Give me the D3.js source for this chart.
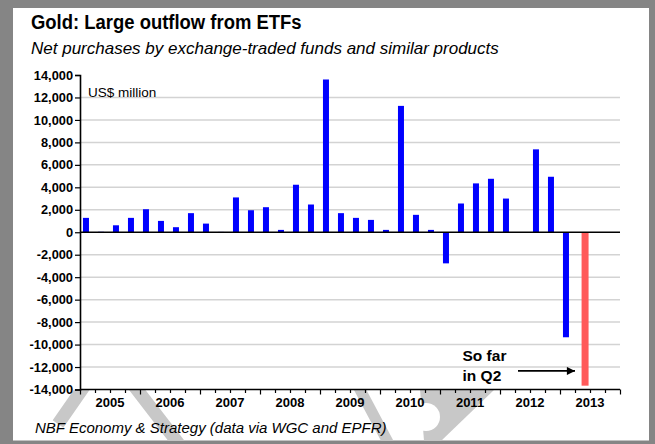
<!DOCTYPE html>
<html>
<head>
<meta charset="utf-8">
<script src="https://cdn.jsdelivr.net/npm/d3@7"></script>
<style>
  html, body { margin: 0; padding: 0; background: #fff; }
  svg { display: block; }
  text { font-family: "Liberation Sans", Arial, sans-serif; }
</style>
</head>
<body>
<svg id="chart" width="655" height="444"></svg>
<script>
// Quarterly net purchases of gold by ETFs and similar products, US$ million
const years = ["2005", "2006", "2007", "2008", "2009", "2010", "2011", "2012", "2013"];
const quarterNames = ["Q1", "Q2", "Q3", "Q4"];
const quarters = years.flatMap(y => quarterNames.map(q => y + q));
const etfFlows = [
  1280, 40, 620, 1280,
  2050, 1010, 450, 1700,
  770, 30, 3100, 1960,
  2230, 210, 4230, 2470,
  13600, 1700, 1280, 1100,
  210, 11250, 1550, 210,
  -2770, 2560, 4350, 4760,
  3000, null, 7380, 4940,
  -9350, null, null, null
];
// Quarter to date (highlighted)
const soFarQuarters = ["2013Q2"];
const soFarValues = [-13660];
const yTicks = d3.range(-14000, 14001, 2000);

const title = "Gold: Large outflow from ETFs";
const subtitle = "Net purchases by exchange-traded funds and similar products";
const unitLabel = "US$ million";
const sourceNote = "NBF Economy & Strategy (data via WGC and EPFR)";
const noteLines = ["So far", "in Q2"];

const svg = d3.select("#chart");
const W = 655, H = 444;
const plot = { left: 80, right: 620, top: 75, bottom: 389.5 };

// Frame
svg.append("rect").attr("width", W).attr("height", H).attr("fill", "#858585");
svg.append("rect").attr("x", 13).attr("y", 8).attr("width", 636).attr("height", 432.5).attr("fill", "#fff");

// Faint background emblem, visible below the plot
const defs = svg.append("defs");
defs.append("clipPath").attr("id", "below").append("rect")
  .attr("x", 13).attr("y", plot.bottom).attr("width", 636).attr("height", 440.5 - plot.bottom);
const emblem = svg.append("g").attr("clip-path", "url(#below)").attr("fill", "none").attr("stroke", "#c8c8c8");
emblem.append("path").attr("d", "M58,424 L108,352 L185,452").attr("stroke-width", 13).attr("stroke-linejoin", "round");
emblem.append("path").attr("d", "M340,352 L390,446").attr("stroke-width", 11);
emblem.append("path").attr("d", "M420,389 L495,389 L441,441 L424,441 Z").attr("fill", "#c8c8c8").attr("stroke", "none");
emblem.append("circle").attr("cx", 426).attr("cy", 417).attr("r", 14).attr("fill", "#fff").attr("stroke", "none");

// Titles
svg.append("text").attr("transform", "translate(31,29) scale(0.9,1)")
  .attr("font-size", 20.5).attr("font-weight", "bold").attr("fill", "#000").text(title);
svg.append("text").attr("x", 31).attr("y", 54).attr("font-size", 17).attr("font-style", "italic").attr("fill", "#000").text(subtitle);

// Scales
const x = d3.scaleBand().domain(quarters).range([plot.left, plot.right])
  .paddingInner(0.6).paddingOuter(0.3).align(0.33);
const qPos = d3.scaleLinear().domain([0, quarters.length]).range([plot.left, plot.right]);
const xYear = d3.scaleBand().domain(years).range([plot.left, plot.right]);
const y = d3.scaleLinear().domain([-14000, 14000]).range([plot.bottom, plot.top]);

// Gridlines
svg.append("g").selectAll("line")
  .data(yTicks.filter(v => v !== 0 && v !== -14000 && v !== 14000))
  .join("line")
  .attr("x1", plot.left).attr("x2", plot.right)
  .attr("y1", d => y(d)).attr("y2", d => y(d))
  .attr("stroke", "#d3d3d3").attr("stroke-width", 1.5);

// Unit label
svg.append("text").attr("x", 88).attr("y", 97).attr("font-family", "Lato, 'Open Sans', sans-serif")
  .attr("font-size", 13.5).attr("fill", "#000").text(unitLabel);

// Bars
const flows = quarters.map((q, i) => ({ q, v: etfFlows[i] })).filter(d => d.v !== null);
svg.append("g").selectAll("rect")
  .data(flows)
  .join("rect")
  .attr("x", d => x(d.q))
  .attr("width", x.bandwidth())
  .attr("y", d => y(Math.max(0, d.v)))
  .attr("height", d => Math.abs(y(d.v) - y(0)))
  .attr("fill", "#0000ff");

const soFar = soFarQuarters.map((q, i) => ({ q, v: soFarValues[i] }));
svg.append("g").selectAll("rect")
  .data(soFar)
  .join("rect")
  .attr("x", d => x(d.q) + x.bandwidth() * 0.6)
  .attr("width", x.bandwidth() + 1)
  .attr("y", d => y(Math.max(0, d.v)))
  .attr("height", d => Math.abs(y(d.v) - y(0)))
  .attr("fill", "#ff5a5a");

// Zero line
svg.append("line").attr("x1", plot.left).attr("x2", plot.right)
  .attr("y1", y(0)).attr("y2", y(0)).attr("stroke", "#000").attr("stroke-width", 1.5);

// Y axis
const fmt = d3.format(",");
const yAxis = svg.append("g").attr("transform", `translate(${plot.left},0)`)
  .call(d3.axisLeft(y).tickValues(yTicks).tickSize(5).tickPadding(2)
    .tickFormat(d => fmt(d).replace("\u2212", "-")));
yAxis.select(".domain").attr("stroke", "#000").attr("stroke-width", 1.6);
yAxis.selectAll(".tick line").attr("stroke", "#000").attr("stroke-width", 1.2);
yAxis.selectAll(".tick text").attr("font-size", 12.8).attr("font-weight", "bold").attr("fill", "#000")
  .attr("font-family", "'Liberation Sans', Arial, sans-serif");

// X axis: quarter ticks, year labels
const xTicks = svg.append("g").attr("transform", `translate(0,${plot.bottom})`)
  .call(d3.axisBottom(qPos).tickValues(d3.range(0, quarters.length + 1)).tickSize(4).tickFormat(""));
xTicks.select(".domain").attr("stroke", "#000").attr("stroke-width", 1.6).attr("d", `M${plot.left},0H${plot.right}`);
xTicks.selectAll(".tick line").attr("stroke", "#000").attr("stroke-width", 1.2)
  .attr("y2", d => d % 4 === 0 ? 5 : 3.5);

const xLabels = svg.append("g").attr("transform", `translate(0,${plot.bottom})`)
  .call(d3.axisBottom(xYear).tickSize(0).tickPadding(8));
xLabels.select(".domain").remove();
xLabels.selectAll(".tick text").attr("font-size", 13).attr("font-weight", "bold").attr("fill", "#000")
  .attr("font-family", "'Liberation Sans', Arial, sans-serif");

// Annotation
const note = svg.append("g");
const noteX = qPos(25.5);
note.selectAll("text").data(noteLines).join("text")
  .attr("x", noteX).attr("y", (d, i) => y(-11500) + i * 20)
  .attr("font-size", 15.5).attr("font-weight", "bold").attr("fill", "#000").text(d => d);
defs.append("marker").attr("id", "arrowhead").attr("viewBox", "0 0 10 10").attr("refX", 10).attr("refY", 5)
  .attr("markerWidth", 5).attr("markerHeight", 4.5).attr("markerUnits", "strokeWidth").attr("orient", "auto")
  .append("path").attr("d", "M0,0L10,5L0,10Z").attr("fill", "#000");
const arrowY = y(-12350);
note.append("line").attr("x1", qPos(29.2)).attr("x2", qPos(33))
  .attr("y1", arrowY).attr("y2", arrowY)
  .attr("stroke", "#000").attr("stroke-width", 1.8).attr("marker-end", "url(#arrowhead)");

// Source
svg.append("text").attr("x", 35).attr("y", 433).attr("font-size", 15).attr("font-style", "italic")
  .attr("fill", "#000").text(sourceNote);
</script>
</body>
</html>
